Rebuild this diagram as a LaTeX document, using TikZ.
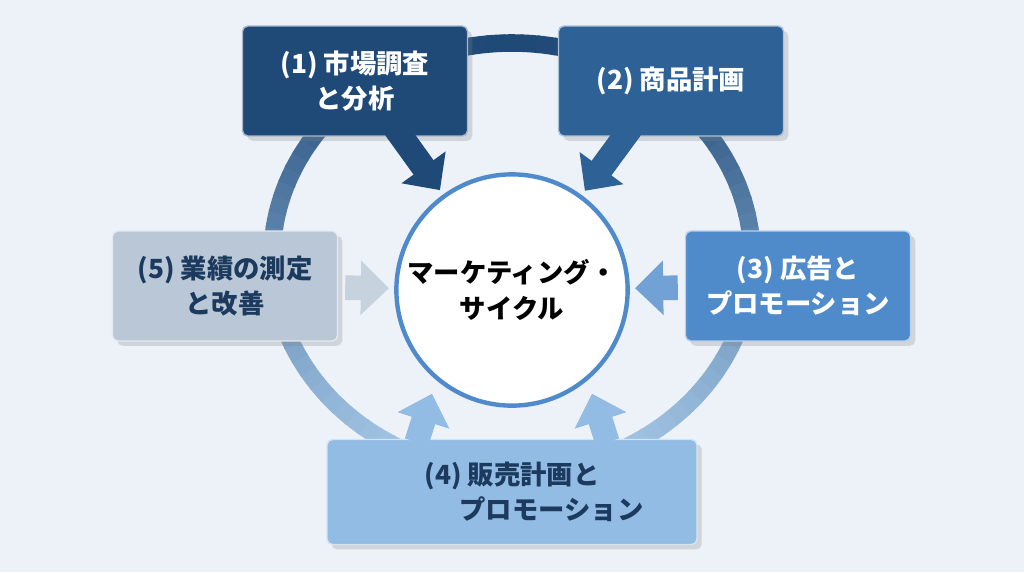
\documentclass[tikz,border=0pt]{standalone}
\usepackage{fontspec}
\setmainfont{Noto Sans CJK JP}
\usetikzlibrary{arrows.meta,positioning,shadows}
\definecolor{navy}{HTML}{1F4A78}
\definecolor{steel}{HTML}{2E6297}
\definecolor{midblue}{HTML}{4F8ACB}
\definecolor{paleblue}{HTML}{92BCE3}
\definecolor{greyblue}{HTML}{B9C7D7}
\definecolor{ringlight}{HTML}{A9CBEA}
\definecolor{bgblue}{HTML}{EDF2F8}
\definecolor{textnavy}{HTML}{1C3A5E}
\begin{document}
\begin{tikzpicture}[
        x=0.02cm, y=-0.02cm,
        font=\fontsize{15}{20}\selectfont\bfseries,
        % Block styles
        step/.style={
            rectangle,
            draw=white!60!#1,
            thick,
            rounded corners=3pt,
            minimum height=2.2cm,
            minimum width=4.5cm,
            align=center,
            fill=#1,
            drop shadow={opacity=0.25}
        },
        hub/.style={
            circle,
            draw=midblue,
            line width=2.5pt,
            fill=white,
            minimum size=4cm,
            align=center,
            text=black
        },
        fat/.style={
            line width=14pt,
            draw=#1,
            -{Triangle[length=16pt,width=30pt]},
            shorten >=3pt, shorten <=4pt
        }
    ]
    \fill[bgblue] (0,0) rectangle (1024,572);
    \useasboundingbox (0,0) rectangle (1024,572);

    % Ring
    \foreach \a in {0,4,...,356}{
        \pgfmathsetmacro\m{50-50*sin(\a+2)}
        \draw[line width=10pt, navy!\m!ringlight] (512,258) ++(\a:240 and 215) arc[start angle=\a, end angle=\a+4.5, x radius=240, y radius=215];
    }

    % Center
    \node[hub] (cycle) at (512,290) {マーケティング・\\サイクル};

    % Steps
    \node[step=navy, text=white] (research) at (355,81) {(1) 市場調査\\と分析};
    \node[step=steel, text=white] (product) at (671,81) {(2) 商品計画};
    \node[step=midblue, text=white] (promo) at (798,286) {(3) 広告と\\プロモーション};
    \node[step=paleblue, text=textnavy, minimum width=7.4cm, minimum height=2.1cm] (sales) at (512,492) {(4) 販売計画と\\\hspace{3em}プロモーション};
    \node[step=greyblue, text=textnavy] (review) at (225,286) {(5) 業績の測定\\と改善};

    % Connections
    \draw[fat=navy, shorten <=-6pt] ([xshift=-38pt]research.south east) -- (cycle);
    \draw[fat=steel, shorten <=-6pt] ([xshift=38pt]product.south west) -- (cycle);
    \draw[fat=midblue!80] (promo) -- (cycle);
    \draw[fat=greyblue!80] (review) -- (cycle);
    \draw[fat=paleblue, shorten >=8pt, shorten <=-2pt] ([xshift=52pt]sales.north west) -- (cycle.230);
    \draw[fat=paleblue, shorten >=8pt, shorten <=-2pt] ([xshift=-52pt]sales.north east) -- (cycle.310);
\end{tikzpicture}
\end{document}
